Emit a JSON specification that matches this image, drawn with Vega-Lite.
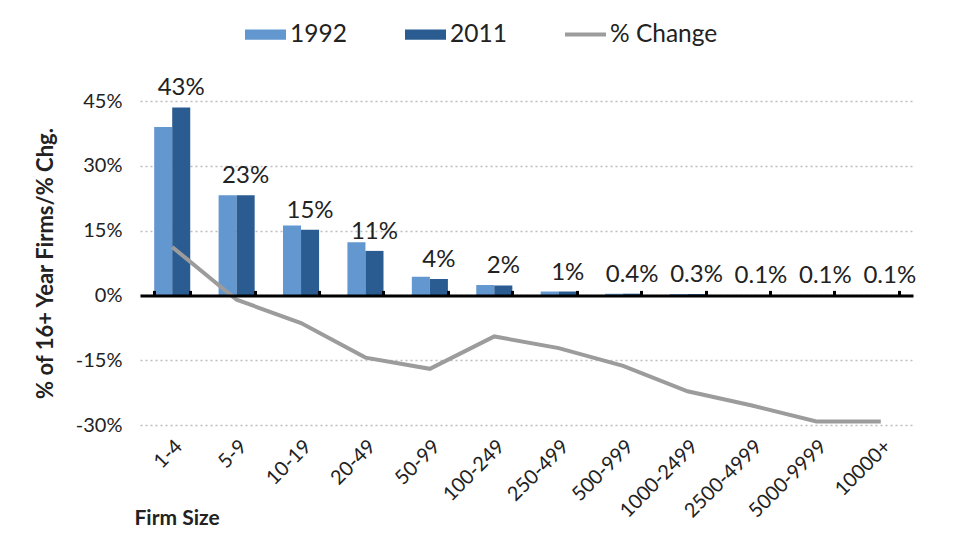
{
  "$schema": "https://vega.github.io/schema/vega-lite/v6.json",
  "autosize": "none",
  "width": 773,
  "height": 324,
  "padding": {"left": 140, "top": 101, "right": 47, "bottom": 123},
  "config": {
    "font": "Lato",
    "view": {"stroke": null},
    "axis": {"labelColor": "#222222", "titleColor": "#222222"}
  },
  "datasets": {
    "bars": [
      {"firm": "1-4", "year": "1992", "share": 39.0},
      {"firm": "1-4", "year": "2011", "share": 43.5},
      {"firm": "5-9", "year": "1992", "share": 23.2},
      {"firm": "5-9", "year": "2011", "share": 23.2},
      {"firm": "10-19", "year": "1992", "share": 16.2},
      {"firm": "10-19", "year": "2011", "share": 15.2},
      {"firm": "20-49", "year": "1992", "share": 12.3},
      {"firm": "20-49", "year": "2011", "share": 10.3},
      {"firm": "50-99", "year": "1992", "share": 4.3},
      {"firm": "50-99", "year": "2011", "share": 3.8},
      {"firm": "100-249", "year": "1992", "share": 2.4},
      {"firm": "100-249", "year": "2011", "share": 2.3},
      {"firm": "250-499", "year": "1992", "share": 0.9},
      {"firm": "250-499", "year": "2011", "share": 0.9},
      {"firm": "500-999", "year": "1992", "share": 0.4},
      {"firm": "500-999", "year": "2011", "share": 0.4},
      {"firm": "1000-2499", "year": "1992", "share": 0.3},
      {"firm": "1000-2499", "year": "2011", "share": 0.3},
      {"firm": "2500-4999", "year": "1992", "share": 0.1},
      {"firm": "2500-4999", "year": "2011", "share": 0.1},
      {"firm": "5000-9999", "year": "1992", "share": 0.1},
      {"firm": "5000-9999", "year": "2011", "share": 0.1},
      {"firm": "10000+", "year": "1992", "share": 0.1},
      {"firm": "10000+", "year": "2011", "share": 0.1}
    ],
    "summary": [
      {"firm": "1-4", "share2011": 43.5, "label": "43%", "change": 11.2},
      {"firm": "5-9", "share2011": 23.2, "label": "23%", "change": -1.0},
      {"firm": "10-19", "share2011": 15.2, "label": "15%", "change": -6.4},
      {"firm": "20-49", "share2011": 10.3, "label": "11%", "change": -14.4},
      {"firm": "50-99", "share2011": 3.8, "label": "4%", "change": -17.0},
      {"firm": "100-249", "share2011": 2.3, "label": "2%", "change": -9.5},
      {"firm": "250-499", "share2011": 0.9, "label": "1%", "change": -12.2},
      {"firm": "500-999", "share2011": 0.4, "label": "0.4%", "change": -16.3},
      {"firm": "1000-2499", "share2011": 0.3, "label": "0.3%", "change": -22.2},
      {"firm": "2500-4999", "share2011": 0.1, "label": "0.1%", "change": -25.5},
      {"firm": "5000-9999", "share2011": 0.1, "label": "0.1%", "change": -29.2},
      {"firm": "10000+", "share2011": 0.1, "label": "0.1%", "change": -29.2}
    ]
  },
  "resolve": {"axis": {"x": "independent"}},
  "layer": [
    {
      "data": {"name": "bars"},
      "mark": {"type": "bar"},
      "encoding": {
        "x": {
          "field": "firm", "type": "nominal",
          "sort": ["1-4","5-9","10-19","20-49","50-99","100-249","250-499","500-999","1000-2499","2500-4999","5000-9999","10000+"],
          "scale": {"paddingInner": 0.44, "paddingOuter": 0.22},
          "axis": {
            "orient": "bottom", "labelAngle": -45, "labelFontSize": 20, "labelPadding": 11,
            "ticks": false, "domain": false, "grid": false,
            "title": "Firm Size", "titleFontSize": 21, "titleFontWeight": "bold",
            "titleAnchor": "start", "titleAlign": "left", "titleX": -6, "titleY": 99, "titleBaseline": "alphabetic"
          }
        },
        "xOffset": {"field": "year", "type": "nominal", "scale": {"paddingInner": 0, "paddingOuter": 0}},
        "y": {
          "field": "share", "type": "quantitative",
          "scale": {"domain": [-30, 45], "nice": false, "zero": false},
          "axis": {
            "values": [-30, -15, 0, 15, 30, 45],
            "labelExpr": "datum.value + '%'",
            "labelFontSize": 20, "labelPadding": 18,
            "ticks": false, "domain": false,
            "grid": true, "gridDash": [2, 3], "gridColor": "#bdbdbd", "gridWidth": 1.5,
            "title": "% of 16+ Year Firms/% Chg.", "titleFontSize": 22, "titleFontWeight": "bold",
            "titleX": -95, "titleY": 162, "titleAngle": -90, "titleAlign": "center", "titleBaseline": "middle"
          }
        },
        "color": {
          "field": "year", "type": "nominal",
          "scale": {"domain": ["1992", "2011", "% Change"], "range": ["#6397cf", "#2b5c91", "#9c9c9c"]},
          "legend": {
            "title": null, "orient": "none", "legendX": 105, "legendY": -87,
            "direction": "horizontal", "columns": 3, "columnPadding": 58,
            "labelFontSize": 24.5, "labelColor": "#222222", "labelOffset": 4,
            "symbolSize": 1681, "symbolStrokeWidth": 0,
            "encode": {
              "symbols": {
                "update": {
                  "shape": {"signal": "datum.value === '% Change' ? 'M-1,-0.1H1V0.1H-1Z' : 'M-1,-0.25H1V0.25H-1Z'"},
                  "fill": {"scale": "color", "field": "value"},
                  "stroke": {"value": "transparent"},
                  "opacity": {"value": 1}
                }
              }
            }
          }
        }
      }
    },
    {
      "data": {"name": "summary"},
      "mark": {"type": "line", "strokeWidth": 4},
      "encoding": {
        "x": {
          "field": "firm", "type": "nominal",
          "sort": ["1-4","5-9","10-19","20-49","50-99","100-249","250-499","500-999","1000-2499","2500-4999","5000-9999","10000+"],
          "axis": {
            "orient": "top", "offset": -194.4, "labels": false, "title": null, "grid": false,
            "domain": true, "domainColor": "#000000", "domainWidth": 3,
            "ticks": true, "tickBand": "extent", "tickColor": "#000000", "tickWidth": 3, "tickSize": 5,
            "zindex": 1
          }
        },
        "y": {"field": "change", "type": "quantitative"},
        "color": {"datum": "% Change"}
      }
    },
    {
      "data": {"name": "summary"},
      "mark": {"type": "text", "fontSize": 24, "color": "#222222", "baseline": "alphabetic", "dy": -12},
      "encoding": {
        "x": {
          "field": "firm", "type": "nominal",
          "sort": ["1-4","5-9","10-19","20-49","50-99","100-249","250-499","500-999","1000-2499","2500-4999","5000-9999","10000+"],
          "axis": null
        },
        "xOffset": {"datum": "2011"},
        "y": {"field": "share2011", "type": "quantitative"},
        "text": {"field": "label"}
      }
    }
  ]
}
